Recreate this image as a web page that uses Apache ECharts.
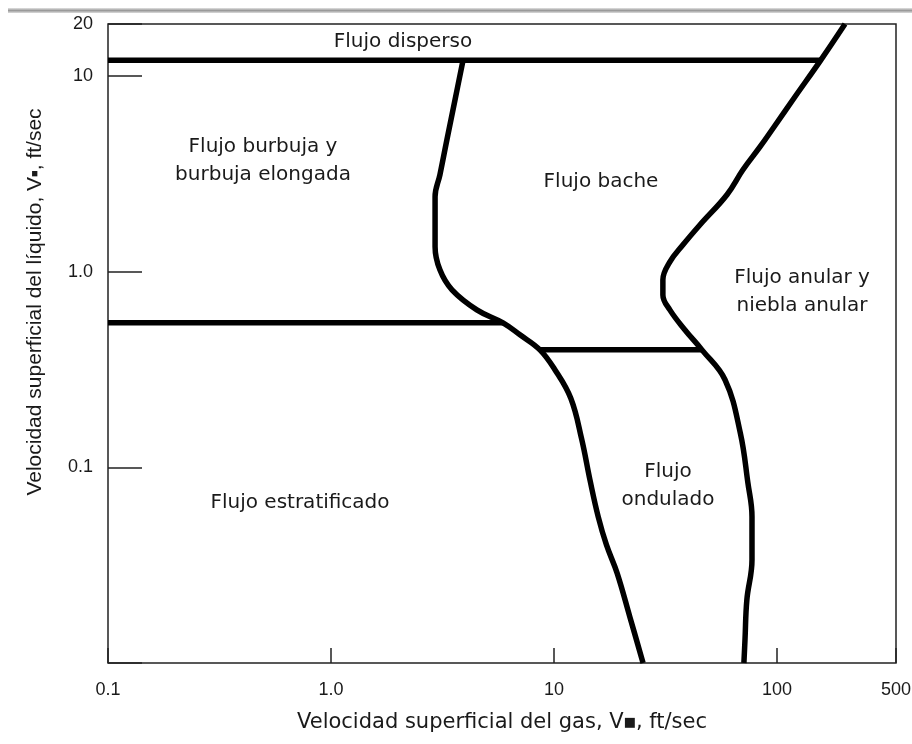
<!DOCTYPE html>
<html>
<head>
<meta charset="utf-8">
<script src="https://cdn.jsdelivr.net/npm/echarts@6/dist/echarts.min.js"></script>
<style>
  html, body { margin: 0; padding: 0; background: #fff; }
  #chart { width: 912px; height: 744px; }
</style>
</head>
<body>
<div id="chart"></div>
<script>
// ejes (log) y etiquetas
const xTickValues = [0.1, 1, 10, 100, 342];
const xTickLabels = ["0.1", "1.0", "10", "100", "500"];
const yTickValues = [0.01, 0.1, 1, 10, 18.4];
const yTickLabels = ["", "0.1", "1.0", "10", "20"];

// fronteras del mapa de patrones de flujo [Vsg, Vsl]
const topLine = [[0.1, 12], [157, 12]];
const midLine = [[0.1, 0.547], [5.91, 0.547]];
const lowLine = [[8.65, 0.398], [46.1, 0.398]];
const leftCurve = [
  [3.91, 12], [3.6, 7.54], [3.31, 4.71], [3.08, 3.12], [2.93, 2.41],
  [2.93, 1.34], [3.08, 1.02], [3.49, 0.806], [4.51, 0.637], [5.91, 0.547],
  [7.04, 0.475], [8.65, 0.398], [10.1, 0.315], [11.9, 0.225], [13.3, 0.14],
  [14.5, 0.0863], [15.8, 0.0558], [17.2, 0.0401], [19.2, 0.0288],
  [21.9, 0.0172], [25.1, 0.01],
];
const rightCurve = [
  [202, 18.4], [157, 12], [120.5, 7.82], [97, 5.48], [83.9, 4.33],
  [70.4, 3.31], [59.7, 2.47], [45.1, 1.73], [37.9, 1.37], [33.1, 1.12],
  [30.8, 0.907], [30.8, 0.76], [33.1, 0.637], [38.7, 0.503], [46.1, 0.398],
  [58.5, 0.28], [68.5, 0.15], [74.1, 0.0832], [77.3, 0.0558],
  [77.3, 0.0337], [73.3, 0.021], [71.9, 0.0131], [71.1, 0.01],
];

// nombres de las regiones
const regionLabels = [
  { text: "Flujo disperso", x: 403, y: 42 },
  { text: "Flujo burbuja y\nburbuja elongada", x: 263, y: 161 },
  { text: "Flujo bache", x: 601, y: 182 },
  { text: "Flujo anular y\nniebla anular", x: 802, y: 292 },
  { text: "Flujo\nondulado", x: 668, y: 486 },
  { text: "Flujo estratificado", x: 300, y: 503 },
];

const textColor = "#1a1a1a";
const lineColor = "#222";

const pickLabel = (values, labels) => (v) => {
  for (let i = 0; i < values.length; i++) {
    if (Math.abs(Math.log10(v) - Math.log10(values[i])) < 0.02) return labels[i];
  }
  return "";
};

const boundary = (data, smooth) => ({
  type: "line",
  data: data,
  showSymbol: false,
  smooth: smooth,
  silent: true,
  lineStyle: { color: "#000", width: 5.5, join: "round" },
});

const chart = echarts.init(document.getElementById("chart"));
chart.setOption({
  animation: false,
  backgroundColor: "#fff",
  grid: {
    left: 108,
    right: 16,
    top: 24,
    bottom: 81,
    show: true,
    borderColor: lineColor,
    borderWidth: 1.5,
    outerBoundsMode: "none",
  },
  xAxis: {
    type: "log",
    logBase: 10,
    min: xTickValues[0],
    max: xTickValues[xTickValues.length - 1],
    axisLine: { show: false },
    axisTick: { show: true, inside: true, length: 15, lineStyle: { color: lineColor, width: 1.5 } },
    splitLine: { show: false },
    axisLabel: {
      formatter: pickLabel(xTickValues, xTickLabels),
      showMinLabel: true,
      showMaxLabel: true,
      margin: 18,
      color: textColor,
      fontSize: 18,
      fontFamily: "Liberation Sans",
    },
    name: "Velocidad superficial del gas, V{b|■}, ft/sec",
    nameLocation: "middle",
    nameGap: 49,
    nameTextStyle: {
      color: textColor,
      fontSize: 21,
      fontFamily: "DejaVu Sans",
      rich: { b: { fontSize: 13, color: textColor } },
    },
  },
  yAxis: {
    type: "log",
    logBase: 10,
    min: yTickValues[0],
    max: yTickValues[yTickValues.length - 1],
    axisLine: { show: false },
    axisTick: { show: true, inside: true, length: 34, lineStyle: { color: lineColor, width: 1.5 } },
    splitLine: { show: false },
    axisLabel: {
      formatter: pickLabel(yTickValues, yTickLabels),
      showMinLabel: true,
      showMaxLabel: true,
      margin: 15,
      color: textColor,
      fontSize: 18,
      fontFamily: "Liberation Sans",
    },
  },
  graphic: [
    {
      type: "rect",
      left: 8,
      top: 8,
      shape: { width: 904, height: 5 },
      style: {
        fill: new echarts.graphic.LinearGradient(0, 0, 0, 1, [
          { offset: 0, color: "#e2e2e2" },
          { offset: 0.5, color: "#9a9a9a" },
          { offset: 1, color: "#dcdcdc" },
        ]),
      },
      silent: true,
    },
    {
      type: "text",
      x: 35,
      y: 302,
      rotation: Math.PI / 2,
      style: {
        text: "Velocidad superficial del líquido, V{b|■}, ft/sec",
        align: "center",
        verticalAlign: "middle",
        fill: textColor,
        fontSize: 21,
        fontFamily: "Liberation Sans",
        rich: { b: { fontSize: 11, fill: textColor } },
      },
      silent: true,
    },
    ...regionLabels.map((l) => ({
      type: "text",
      x: l.x,
      y: l.y,
      style: {
        text: l.text,
        align: "center",
        verticalAlign: "middle",
        fill: textColor,
        fontSize: 20,
        lineHeight: 28,
        fontFamily: "DejaVu Sans",
      },
      silent: true,
    })),
  ],
  series: [
    boundary(topLine, false),
    boundary(midLine, false),
    boundary(lowLine, false),
    boundary(leftCurve, 0.4),
    boundary(rightCurve, 0.4),
  ],
});
</script>
</body>
</html>
